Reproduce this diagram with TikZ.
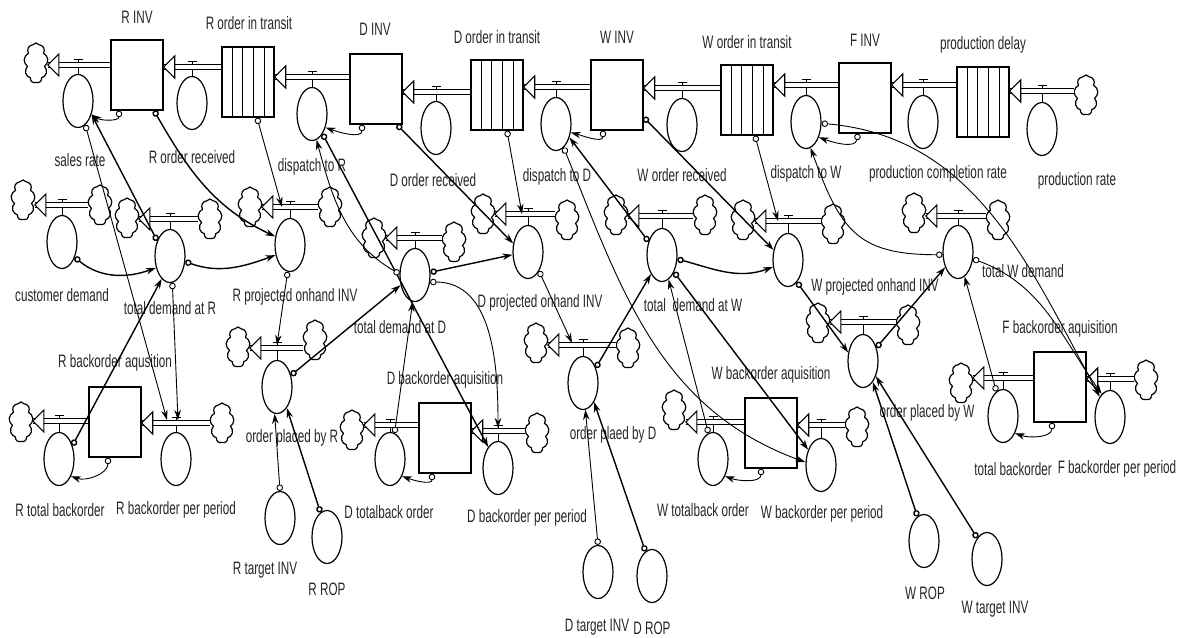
\documentclass[tikz,border=0pt]{standalone}
\usepackage{fontspec}
\setmainfont{Liberation Sans}[FakeStretch=0.65]
\usetikzlibrary{shapes.geometric,shapes.symbols,arrows.meta,calc}
\tikzset{
 stock/.style={draw,line width=1.4pt,minimum width=52pt,minimum height=70pt,inner sep=0pt},
 aux/.style={ellipse,draw,line width=1.2pt,minimum width=30pt,minimum height=53pt,inner sep=0pt},
 cld/.style={cloud,cloud puffs=9,cloud puff arc=120,aspect=0.6,draw,line width=1.2pt,minimum width=24pt,minimum height=40pt,inner sep=0pt},
 pipe/.style={draw,line width=1.1pt,double=white,double distance=3.2pt},
 stem/.style={line width=1pt},
 lbl/.style={font=\fontsize{18}{20}\selectfont,inner sep=0pt,text=black!85},
 link/.style={line width=0.9pt,arrows={Circle[open,fill=white,length=6.5pt,width=6.5pt]-Stealth[length=10pt,width=6.5pt]}},
 tlink/.style={link,line width=1.4pt},
 hd/.pic={\draw[line width=1.1pt,fill=white] (0pt,0pt) -- (11pt,11pt) -- (11pt,-11pt) -- cycle;}
}
\newcommand{\convlines}[1]{\foreach \i in {1,2,3,4}{\draw[line width=0.9pt] ($(#1.north west)!\i/5!(#1.north east)$) -- ($(#1.south west)!\i/5!(#1.south east)$);}}
\newcommand{\flw}[4]{\draw[stem] ([yshift=6pt]#3) -- (#4.north);
 \draw[pipe] (#1) -- (#2);
 \pic at (#2) {hd};
 \draw[stem] ([xshift=-4.5pt,yshift=6pt]#3) -- ([xshift=4.5pt,yshift=6pt]#3);}
\begin{document}
\begin{tikzpicture}[x=1pt,y=-1pt]
\useasboundingbox (0,0) rectangle (1185,637);
% ---------- stocks
\node[stock] (rinv) at (137,75) {};
\node[stock] (rtransit) at (248,82) {}; \convlines{rtransit}
\node[stock] (dinv) at (376,89) {};
\node[stock] (dtransit) at (497,95) {}; \convlines{dtransit}
\node[stock] (winv) at (617,95) {};
\node[stock] (wtransit) at (747,100) {}; \convlines{wtransit}
\node[stock] (finv) at (865,98) {};
\node[stock] (pdelay) at (983,102) {}; \convlines{pdelay}
\node[stock] (rback) at (115,422) {};
\node[stock] (dback) at (445,438) {};
\node[stock] (wback) at (771,433) {};
\node[stock] (fback) at (1060,387) {};
% ---------- rates / auxiliaries
\node[aux] (sales) at (78,101) {};
\node[aux] (rordrec) at (192,103) {};
\node[aux] (dispR) at (312,114) {};
\node[aux] (dordrec) at (436,128) {};
\node[aux] (dispD) at (556,124) {};
\node[aux] (wordrec) at (682,125) {};
\node[aux] (dispW) at (806,122) {};
\node[aux] (pcr) at (923,122) {};
\node[aux] (prate) at (1042,129) {};
\node[aux] (custd) at (62,242) {};
\node[aux] (tdR) at (170,256) {};
\node[aux] (rproj) at (290,245) {};
\node[aux] (tdD) at (415,275) {};
\node[aux] (dproj) at (528,252) {};
\node[aux] (tdW) at (662,255) {};
\node[aux] (wproj) at (788,260) {};
\node[aux] (twd) at (958,252) {};
\node[aux] (rtotb) at (59,459) {};
\node[aux] (rbpp) at (176,459) {};
\node[aux] (opR) at (277,387) {};
\node[aux] (dtotb) at (390,459) {};
\node[aux] (dbpp) at (498,468) {};
\node[aux] (opD) at (583,383) {};
\node[aux] (wtotb) at (713,459) {};
\node[aux] (wbpp) at (821,465) {};
\node[aux] (opW) at (863,361) {};
\node[aux] (ftotb) at (1003,416) {};
\node[aux] (fbpp) at (1110,417) {};
\node[aux] (rtarget) at (280,518) {};
\node[aux] (rrop) at (327,537) {};
\node[aux] (dtarget) at (598,572) {};
\node[aux] (drop) at (652,576) {};
\node[aux] (wrop) at (924,541) {};
\node[aux] (wtarget) at (987,559) {};
% ---------- clouds
\node[cld] (cS) at (36,63) {};
\node[cld] (cP) at (1086,95) {};
\node[cld] (cCDl) at (23,200) {};   \node[cld] (cCDr) at (100,205) {};
\node[cld] (cTRl) at (127,218) {};  \node[cld] (cTRr) at (210,219) {};
\node[cld] (cRPl) at (250,207) {};  \node[cld] (cRPr) at (330,207) {};
\node[cld] (cTDl) at (374,238) {};  \node[cld] (cTDr) at (454,242) {};
\node[cld] (cDPl) at (483,214) {};  \node[cld] (cDPr) at (567,220) {};
\node[cld] (cTWl) at (616,215) {};  \node[cld] (cTWr) at (705,215) {};
\node[cld] (cWPl) at (743,220) {};  \node[cld] (cWPr) at (833,224) {};
\node[cld] (cTFl) at (914,213) {};  \node[cld] (cTFr) at (998,220) {};
\node[cld] (cRT) at (21,422) {};    \node[cld] (cRB) at (222,423) {};
\node[cld] (cORl) at (238,347) {};  \node[cld] (cORr) at (315,340) {};
\node[cld] (cDT) at (352,430) {};   \node[cld] (cDB) at (537,433) {};
\node[cld] (cODl) at (536,343) {};  \node[cld] (cODr) at (628,348) {};
\node[cld] (cWT) at (674,410) {};   \node[cld] (cWB) at (857,427) {};
\node[cld] (cOWl) at (818,323) {};  \node[cld] (cOWr) at (908,325) {};
\node[cld] (cFT) at (961,383) {};   \node[cld] (cFB) at (1146,380) {};
% ---------- valve coordinates
\coordinate (vS) at (78,65);   \coordinate (vRO) at (192,67);  \coordinate (vDR) at (312,77);
\coordinate (vDO) at (436,92); \coordinate (vDD) at (556,87);  \coordinate (vWO) at (682,88);
\coordinate (vDW) at (806,85); \coordinate (vPC) at (923,85);  \coordinate (vPR) at (1042,91);
\coordinate (vCD) at (62,205); \coordinate (vTR) at (170,219); \coordinate (vRP) at (290,207);
\coordinate (vTD) at (415,238);\coordinate (vDP) at (528,214); \coordinate (vTW) at (662,216);
\coordinate (vWP) at (788,221);\coordinate (vTF) at (958,216);
\coordinate (vRT) at (59,421); \coordinate (vRB) at (176,423); \coordinate (vOR) at (277,348);
\coordinate (vDT) at (390,425);\coordinate (vDB) at (498,431); \coordinate (vOD) at (583,345);
\coordinate (vWT) at (713,422);\coordinate (vWB) at (821,425); \coordinate (vOW) at (863,322);
\coordinate (vFT) at (1003,378);\coordinate (vFB) at (1110,379);
% ---------- flows
\flw{rinv.west |- vS}{cS.east |- vS}{vS}{sales}
\flw{rtransit.west |- vRO}{rinv.east |- vRO}{vRO}{rordrec}
\flw{dinv.west |- vDR}{rtransit.east |- vDR}{vDR}{dispR}
\flw{dtransit.west |- vDO}{dinv.east |- vDO}{vDO}{dordrec}
\flw{winv.west |- vDD}{dtransit.east |- vDD}{vDD}{dispD}
\flw{wtransit.west |- vWO}{winv.east |- vWO}{vWO}{wordrec}
\flw{finv.west |- vDW}{wtransit.east |- vDW}{vDW}{dispW}
\flw{pdelay.west |- vPC}{finv.east |- vPC}{vPC}{pcr}
\flw{cP.west |- vPR}{pdelay.east |- vPR}{vPR}{prate}
\flw{cCDr.west |- vCD}{cCDl.east |- vCD}{vCD}{custd}
\flw{cTRr.west |- vTR}{cTRl.east |- vTR}{vTR}{tdR}
\flw{cRPr.west |- vRP}{cRPl.east |- vRP}{vRP}{rproj}
\flw{cTDr.west |- vTD}{cTDl.east |- vTD}{vTD}{tdD}
\flw{cDPr.west |- vDP}{cDPl.east |- vDP}{vDP}{dproj}
\flw{cTWr.west |- vTW}{cTWl.east |- vTW}{vTW}{tdW}
\flw{cWPr.west |- vWP}{cWPl.east |- vWP}{vWP}{wproj}
\flw{cTFr.west |- vTF}{cTFl.east |- vTF}{vTF}{twd}
\flw{rback.west |- vRT}{cRT.east |- vRT}{vRT}{rtotb}
\flw{cRB.west |- vRB}{rback.east |- vRB}{vRB}{rbpp}
\flw{cORr.west |- vOR}{cORl.east |- vOR}{vOR}{opR}
\flw{dback.west |- vDT}{cDT.east |- vDT}{vDT}{dtotb}
\flw{cDB.west |- vDB}{dback.east |- vDB}{vDB}{dbpp}
\flw{cODr.west |- vOD}{cODl.east |- vOD}{vOD}{opD}
\flw{wback.west |- vWT}{cWT.east |- vWT}{vWT}{wtotb}
\flw{cWB.west |- vWB}{wback.east |- vWB}{vWB}{wbpp}
\flw{cOWr.west |- vOW}{cOWl.east |- vOW}{vOW}{opW}
\flw{fback.west |- vFT}{cFT.east |- vFT}{vFT}{ftotb}
\flw{cFB.west |- vFB}{fback.east |- vFB}{vFB}{fbpp}
% ---------- labels
\node[lbl] at (137,17) {R INV};
\node[lbl] at (249,23) {R order in transit};
\node[lbl] at (375,29) {D INV};
\node[lbl] at (497,37) {D order in transit};
\node[lbl] at (617,37) {W INV};
\node[lbl] at (747,42) {W order in transit};
\node[lbl] at (865,40) {F INV};
\node[lbl] at (983,45) {production delay};
\node[lbl] at (80,160) {sales rate};
\node[lbl] at (192,157) {R order received};
\node[lbl] at (312,167) {dispatch to R};
\node[lbl] at (433,180) {D order received};
\node[lbl] at (557,177) {dispatch to D};
\node[lbl] at (682,175) {W order received};
\node[lbl] at (806,174) {dispatch to W};
\node[lbl] at (938,174) {production completion rate};
\node[lbl] at (1077,181) {production rate};
\node[lbl] at (62,295) {customer demand};
\node[lbl] at (170,308) {total demand at R};
\node[lbl] at (295,297) {R projected onhand INV};
\node[lbl] at (400,327) {total demand at D};
\node[lbl] at (540,303) {D projected onhand INV};
\node[lbl] at (693,305) {total \ demand at W};
\node[lbl] at (875,287) {W projected onhand INV};
\node[lbl] at (1023,271) {total W demand};
\node[lbl] at (115,363) {R backorder aqusition};
\node[lbl] at (445,380) {D backorder aquisition};
\node[lbl] at (771,375) {W backorder aquisition};
\node[lbl] at (1060,329) {F backorder aquisition};
\node[lbl] at (292,438) {order placed by R};
\node[lbl] at (613,435) {order plaed by D};
\node[lbl] at (927,413) {order placed by W};
\node[lbl] at (60,510) {R total backorder};
\node[lbl] at (176,510) {R backorder per period};
\node[lbl] at (389,512) {D totalback order};
\node[lbl] at (527,518) {D backorder per period};
\node[lbl] at (703,510) {W totalback order};
\node[lbl] at (822,514) {W backorder per period};
\node[lbl] at (1013,469) {total backorder};
\node[lbl] at (1117,469) {F backorder per period};
\node[lbl] at (265,570) {R target INV};
\node[lbl] at (327,589) {R ROP};
\node[lbl] at (597,627) {D target INV};
\node[lbl] at (652,628) {D ROP};
\node[lbl] at (925,593) {W ROP};
\node[lbl] at (995,609) {W target INV};
% ---------- info links: R
\draw[link] ([xshift=-18pt]rinv.south) to[out=-90,in=-35] (sales.-45);
\draw[tlink] ([xshift=17pt]rinv.south) to[out=-60,in=155] (rproj.150);
\draw[link] ([xshift=9pt]rtransit.south) -- ([xshift=-8pt]vRP);
\draw[link] (rproj.-95) -- ([yshift=3pt]vOR);
\draw[link] (sales.-73) -- ([xshift=-9pt,yshift=3pt]vRB);
\draw[tlink] (tdR.130) -- (sales.-45);
\draw[tlink] (custd.-50) to[out=-40,in=200] (tdR.220);
\draw[tlink] (tdR.-20) to[out=-20,in=200] (rproj.215);
\draw[link] (tdR.-85) -- ([xshift=2pt,yshift=3pt]vRB);
\draw[tlink] (rtotb.45) -- (tdR.-110);
\draw[link] ([xshift=-7pt]rback.south) to[out=-90,in=-20] (rtotb.-55);
\draw[tlink] (opR.40) -- (tdD.215);
\draw[link] (rtarget.north) -- (opR.-95);
\draw[tlink] (rrop.105) -- (opR.-65);
% ---------- info links: D
\draw[link] ([xshift=-14pt]dinv.south) to[out=-90,in=-20] (dispR.-45);
\draw[tlink] ([xshift=21pt]dinv.south) -- (dproj.150);
\draw[tlink] (dispR.-62) -- (dbpp.115);
\draw[link] (tdD.176) to[out=150,in=-75] (dispR.-80);
\draw[tlink] (tdD.10) -- (dproj.190);
\draw[link] (tdD.-25) to[out=0,in=90] ([yshift=3pt]vDB);
\draw[link] (dtotb.80) -- (tdD.-95);
\draw[link] ([xshift=-13pt]dback.south) to[out=-90,in=-20] (dtotb.-55);
\draw[link] ([xshift=10pt]dtransit.south) -- ([xshift=-6pt]vDP);
\draw[link] (dproj.-60) -- ([xshift=-11pt,yshift=2pt]vOD);
\draw[tlink] (opD.50) -- (tdW.240);
\draw[link] (dtarget.north) -- (opD.-85);
\draw[tlink] (drop.105) -- (opD.-60);
% ---------- info links: W
\draw[link] ([xshift=-14pt]winv.south) to[out=-90,in=-15] (dispD.-30);
\draw[tlink] (winv.-40) -- (wproj.145);
\draw[tlink] (tdW.135) -- (dispD.-45);
\draw[link] (dispD.-72) to[out=-68,in=160] (wbpp.170);
\draw[tlink] (tdW.-55) -- (wbpp.130);
\draw[tlink] (tdW.-15) to[out=-15,in=200] (wproj.205);
\draw[link] (wtotb.100) -- (tdW.-75);
\draw[link] ([xshift=-10pt]wback.south) to[out=-90,in=-20] (wtotb.-55);
\draw[link] ([xshift=8pt]wtransit.south) -- ([xshift=-10pt]vWP);
\draw[tlink] (wproj.-68) -- (opW.150);
\draw[tlink] (opW.45) -- (twd.230);
\draw[tlink] (wrop.105) -- (opW.-65);
\draw[tlink] (wtarget.115) -- (opW.-50);
% ---------- info links: F
\draw[link] ([xshift=-7pt]finv.south) to[out=-100,in=-20] (dispW.-50);
\draw[link] (dispW.-5) to[out=-5,in=118] (fbpp.117);
\draw[link] (twd.190) to[out=180,in=-70,looseness=1.3] (dispW.-80);
\draw[link] (twd.-25) to[out=-20,in=125] (fbpp.110);
\draw[link] (ftotb.105) -- (twd.-75);
\draw[link] ([xshift=-8pt]fback.south) to[out=-90,in=-20] (ftotb.-55);
\end{tikzpicture}
\end{document}
